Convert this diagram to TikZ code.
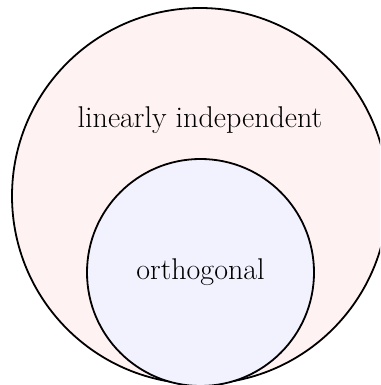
\documentclass[tikz,border=0pt]{standalone}
\begin{document}
\begin{tikzpicture}[x=1pt,y=1pt,
  setcircle/.style={circle, draw=black, line width=1.8pt, inner sep=0pt},
  lbl/.style={font=\fontsize{30}{34}\selectfont, text=black}]
\useasboundingbox (0,0) rectangle (380,385);
\clip (0,0) rectangle (380,385);
\node[setcircle, fill=red!5, minimum size=376pt] (li) at (200,189) {};
\node[setcircle, fill=blue!5, minimum size=227pt] (orth) at (200.5,112.5) {};
\node[lbl] (tli) at (200,265) {linearly independent};
\node[lbl] (torth) at (200.5,113) {orthogonal};
\end{tikzpicture}
\end{document}
